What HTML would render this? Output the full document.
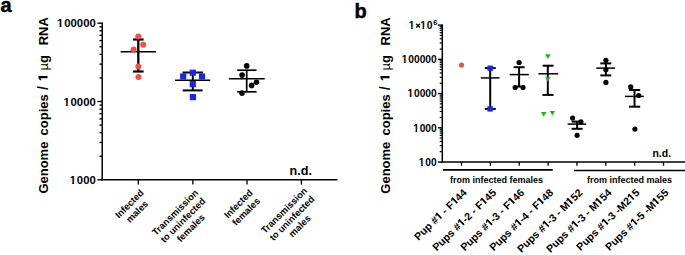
<!DOCTYPE html>
<html><head><meta charset="utf-8"><style>
html,body{margin:0;padding:0;background:#fff;}
body{width:685px;height:255px;position:relative;overflow:hidden;font-family:"Liberation Sans",sans-serif;color:#000;}
svg.main{position:absolute;left:0;top:0;font-family:"Liberation Sans",sans-serif;}
.rl{position:absolute;white-space:nowrap;text-align:center;font-weight:bold;transform-origin:100% 0;transform:rotate(-45deg);}
.pl{position:absolute;font-weight:bold;font-size:20px;line-height:1;-webkit-text-stroke:0.45px #000;}
.yt{position:absolute;white-space:nowrap;font-weight:bold;font-size:13px;line-height:1;transform-origin:0 0;transform:rotate(-90deg);}
.mu{font-weight:bold;}
.sl{font-size:14.3px;margin-top:-1.3px;}
.o1{width:0.5562em;height:0.7324em;vertical-align:baseline;overflow:visible;fill:#000;}
</style></head><body>
<div class="pl" style="left:0.6px;top:-5.1px">a</div>
<div class="pl" style="left:354.5px;top:0.5px">b</div>
<div class="yt" style="left:36.7px;top:194px"><span class="" style="position:absolute;left:0.40px;top:0">Genome</span><span class="" style="position:absolute;left:58.60px;top:0">copies</span><span class="sl" style="position:absolute;left:103.90px;top:0">/</span><span class="" style="position:absolute;left:112.90px;top:0"><svg class="o1" viewBox="0 -1500 1139 1500"><path d="M450,0L450,-1130L131,-930L131,-1200L481,-1430L790,-1430L790,0Z"/></svg></span><span class="mu" style="position:absolute;left:123.60px;top:0"><span style="font-weight:normal">µ</span>g</span><span class="" style="position:absolute;left:148.70px;top:0">RNA</span></div>
<div class="yt" style="left:378.5px;top:194.5px"><span class="" style="position:absolute;left:1.30px;top:0">Genome</span><span class="" style="position:absolute;left:59.50px;top:0">copies</span><span class="sl" style="position:absolute;left:104.80px;top:0">/</span><span class="" style="position:absolute;left:113.80px;top:0"><svg class="o1" viewBox="0 -1500 1139 1500"><path d="M450,0L450,-1130L131,-930L131,-1200L481,-1430L790,-1430L790,0Z"/></svg></span><span class="mu" style="position:absolute;left:124.50px;top:0"><span style="font-weight:normal">µ</span>g</span><span class="" style="position:absolute;left:149.60px;top:0">RNA</span></div>
<svg class="main" width="685" height="255" viewBox="0 0 685 255">
<line x1="102.20" y1="22.45" x2="102.20" y2="180.55" stroke="#000" stroke-width="1.5"/>
<line x1="97.40" y1="179.80" x2="102.20" y2="179.80" stroke="#000" stroke-width="1.4"/>
<line x1="97.40" y1="101.50" x2="102.20" y2="101.50" stroke="#000" stroke-width="1.4"/>
<line x1="97.40" y1="23.20" x2="102.20" y2="23.20" stroke="#000" stroke-width="1.4"/>
<line x1="99.40" y1="156.23" x2="102.20" y2="156.23" stroke="#000" stroke-width="1.3"/>
<line x1="99.40" y1="142.44" x2="102.20" y2="142.44" stroke="#000" stroke-width="1.3"/>
<line x1="99.40" y1="132.66" x2="102.20" y2="132.66" stroke="#000" stroke-width="1.3"/>
<line x1="99.40" y1="125.07" x2="102.20" y2="125.07" stroke="#000" stroke-width="1.3"/>
<line x1="99.40" y1="118.87" x2="102.20" y2="118.87" stroke="#000" stroke-width="1.3"/>
<line x1="99.40" y1="113.63" x2="102.20" y2="113.63" stroke="#000" stroke-width="1.3"/>
<line x1="99.40" y1="109.09" x2="102.20" y2="109.09" stroke="#000" stroke-width="1.3"/>
<line x1="99.40" y1="105.08" x2="102.20" y2="105.08" stroke="#000" stroke-width="1.3"/>
<line x1="99.40" y1="77.93" x2="102.20" y2="77.93" stroke="#000" stroke-width="1.3"/>
<line x1="99.40" y1="64.14" x2="102.20" y2="64.14" stroke="#000" stroke-width="1.3"/>
<line x1="99.40" y1="54.36" x2="102.20" y2="54.36" stroke="#000" stroke-width="1.3"/>
<line x1="99.40" y1="46.77" x2="102.20" y2="46.77" stroke="#000" stroke-width="1.3"/>
<line x1="99.40" y1="40.57" x2="102.20" y2="40.57" stroke="#000" stroke-width="1.3"/>
<line x1="99.40" y1="35.33" x2="102.20" y2="35.33" stroke="#000" stroke-width="1.3"/>
<line x1="99.40" y1="30.79" x2="102.20" y2="30.79" stroke="#000" stroke-width="1.3"/>
<line x1="99.40" y1="26.78" x2="102.20" y2="26.78" stroke="#000" stroke-width="1.3"/>
<text x="57.10 64.29 70.57 76.85 83.13 89.42" y="27.20" font-size="11.3" font-weight="bold" >100000</text>
<text x="63.38 70.57 76.85 83.13 89.42" y="105.50" font-size="11.3" font-weight="bold" >10000</text>
<text x="69.66 76.85 83.13 89.42" y="183.80" font-size="11.3" font-weight="bold" >1000</text>
<line x1="101.45" y1="179.80" x2="337.60" y2="179.80" stroke="#000" stroke-width="1.5"/>
<line x1="138.30" y1="179.80" x2="138.30" y2="184.60" stroke="#000" stroke-width="1.3"/>
<line x1="192.80" y1="179.80" x2="192.80" y2="184.60" stroke="#000" stroke-width="1.3"/>
<line x1="247.00" y1="179.80" x2="247.00" y2="184.60" stroke="#000" stroke-width="1.3"/>
<line x1="301.40" y1="179.80" x2="301.40" y2="184.60" stroke="#000" stroke-width="1.3"/>
<line x1="120.60" y1="51.70" x2="155.90" y2="51.70" stroke="#000" stroke-width="1.5"/>
<line x1="138.30" y1="39.50" x2="138.30" y2="71.50" stroke="#000" stroke-width="2.3"/>
<line x1="133.00" y1="39.50" x2="143.60" y2="39.50" stroke="#000" stroke-width="2.2"/>
<line x1="133.00" y1="71.50" x2="143.60" y2="71.50" stroke="#000" stroke-width="2.2"/>
<circle cx="138.30" cy="36.50" r="3" fill="#f04f4c"/>
<circle cx="143.20" cy="44.70" r="3" fill="#f04f4c"/>
<circle cx="133.60" cy="49.40" r="3" fill="#f04f4c"/>
<circle cx="138.30" cy="66.40" r="3" fill="#f04f4c"/>
<circle cx="138.50" cy="76.90" r="3" fill="#f04f4c"/>
<line x1="175.00" y1="80.20" x2="210.20" y2="80.20" stroke="#000" stroke-width="1.5"/>
<line x1="192.80" y1="72.50" x2="192.80" y2="90.40" stroke="#000" stroke-width="2"/>
<line x1="182.50" y1="72.50" x2="203.00" y2="72.50" stroke="#000" stroke-width="2"/>
<line x1="182.70" y1="90.40" x2="202.60" y2="90.40" stroke="#000" stroke-width="2"/>
<rect x="189.70" y="69.60" width="6.2" height="6.2" fill="#1a28e6"/>
<rect x="180.10" y="73.40" width="6.2" height="6.2" fill="#1a28e6"/>
<rect x="198.90" y="73.40" width="6.2" height="6.2" fill="#1a28e6"/>
<rect x="189.70" y="81.00" width="6.2" height="6.2" fill="#1a28e6"/>
<rect x="189.80" y="94.00" width="6.2" height="6.2" fill="#1a28e6"/>
<line x1="228.90" y1="78.80" x2="264.70" y2="78.80" stroke="#000" stroke-width="1.5"/>
<line x1="246.70" y1="70.20" x2="246.70" y2="91.80" stroke="#000" stroke-width="1.7"/>
<line x1="237.20" y1="70.20" x2="256.60" y2="70.20" stroke="#000" stroke-width="1.7"/>
<line x1="237.20" y1="91.80" x2="256.60" y2="91.80" stroke="#000" stroke-width="1.7"/>
<circle cx="246.70" cy="65.90" r="2.8" fill="#000"/>
<circle cx="242.10" cy="75.10" r="2.8" fill="#000"/>
<circle cx="256.50" cy="82.20" r="2.8" fill="#000"/>
<circle cx="251.60" cy="85.40" r="2.8" fill="#000"/>
<circle cx="242.00" cy="93.10" r="2.8" fill="#000"/>
<text x="300.70" y="174.90" font-size="12.6" text-anchor="middle" font-weight="bold" >n.d.</text>
<line x1="442.30" y1="24.37" x2="442.30" y2="162.75" stroke="#000" stroke-width="1.5"/>
<line x1="437.90" y1="162.00" x2="442.30" y2="162.00" stroke="#000" stroke-width="1.4"/>
<line x1="437.90" y1="127.78" x2="442.30" y2="127.78" stroke="#000" stroke-width="1.4"/>
<line x1="437.90" y1="93.56" x2="442.30" y2="93.56" stroke="#000" stroke-width="1.4"/>
<line x1="437.90" y1="59.34" x2="442.30" y2="59.34" stroke="#000" stroke-width="1.4"/>
<line x1="437.90" y1="25.12" x2="442.30" y2="25.12" stroke="#000" stroke-width="1.4"/>
<line x1="439.70" y1="151.70" x2="442.30" y2="151.70" stroke="#000" stroke-width="1.2"/>
<line x1="439.70" y1="145.67" x2="442.30" y2="145.67" stroke="#000" stroke-width="1.2"/>
<line x1="439.70" y1="141.40" x2="442.30" y2="141.40" stroke="#000" stroke-width="1.2"/>
<line x1="439.70" y1="138.08" x2="442.30" y2="138.08" stroke="#000" stroke-width="1.2"/>
<line x1="439.70" y1="135.37" x2="442.30" y2="135.37" stroke="#000" stroke-width="1.2"/>
<line x1="439.70" y1="133.08" x2="442.30" y2="133.08" stroke="#000" stroke-width="1.2"/>
<line x1="439.70" y1="131.10" x2="442.30" y2="131.10" stroke="#000" stroke-width="1.2"/>
<line x1="439.70" y1="129.35" x2="442.30" y2="129.35" stroke="#000" stroke-width="1.2"/>
<line x1="439.70" y1="117.48" x2="442.30" y2="117.48" stroke="#000" stroke-width="1.2"/>
<line x1="439.70" y1="111.45" x2="442.30" y2="111.45" stroke="#000" stroke-width="1.2"/>
<line x1="439.70" y1="107.18" x2="442.30" y2="107.18" stroke="#000" stroke-width="1.2"/>
<line x1="439.70" y1="103.86" x2="442.30" y2="103.86" stroke="#000" stroke-width="1.2"/>
<line x1="439.70" y1="101.15" x2="442.30" y2="101.15" stroke="#000" stroke-width="1.2"/>
<line x1="439.70" y1="98.86" x2="442.30" y2="98.86" stroke="#000" stroke-width="1.2"/>
<line x1="439.70" y1="96.88" x2="442.30" y2="96.88" stroke="#000" stroke-width="1.2"/>
<line x1="439.70" y1="95.13" x2="442.30" y2="95.13" stroke="#000" stroke-width="1.2"/>
<line x1="439.70" y1="83.26" x2="442.30" y2="83.26" stroke="#000" stroke-width="1.2"/>
<line x1="439.70" y1="77.23" x2="442.30" y2="77.23" stroke="#000" stroke-width="1.2"/>
<line x1="439.70" y1="72.96" x2="442.30" y2="72.96" stroke="#000" stroke-width="1.2"/>
<line x1="439.70" y1="69.64" x2="442.30" y2="69.64" stroke="#000" stroke-width="1.2"/>
<line x1="439.70" y1="66.93" x2="442.30" y2="66.93" stroke="#000" stroke-width="1.2"/>
<line x1="439.70" y1="64.64" x2="442.30" y2="64.64" stroke="#000" stroke-width="1.2"/>
<line x1="439.70" y1="62.66" x2="442.30" y2="62.66" stroke="#000" stroke-width="1.2"/>
<line x1="439.70" y1="60.91" x2="442.30" y2="60.91" stroke="#000" stroke-width="1.2"/>
<line x1="439.70" y1="49.04" x2="442.30" y2="49.04" stroke="#000" stroke-width="1.2"/>
<line x1="439.70" y1="43.01" x2="442.30" y2="43.01" stroke="#000" stroke-width="1.2"/>
<line x1="439.70" y1="38.74" x2="442.30" y2="38.74" stroke="#000" stroke-width="1.2"/>
<line x1="439.70" y1="35.42" x2="442.30" y2="35.42" stroke="#000" stroke-width="1.2"/>
<line x1="439.70" y1="32.71" x2="442.30" y2="32.71" stroke="#000" stroke-width="1.2"/>
<line x1="439.70" y1="30.42" x2="442.30" y2="30.42" stroke="#000" stroke-width="1.2"/>
<line x1="439.70" y1="28.44" x2="442.30" y2="28.44" stroke="#000" stroke-width="1.2"/>
<line x1="439.70" y1="26.69" x2="442.30" y2="26.69" stroke="#000" stroke-width="1.2"/>
<text x="401.86 408.34 414.02 419.69 425.36 431.03" y="63.14" font-size="10.2" font-weight="bold" >100000</text>
<text x="407.53 414.02 419.69 425.36 431.03" y="97.36" font-size="10.2" font-weight="bold" >10000</text>
<text x="413.20 419.69 425.36 431.03" y="131.58" font-size="10.2" font-weight="bold" >1000</text>
<text x="418.87 425.36 431.03" y="165.80" font-size="10.2" font-weight="bold" >100</text>
<text x="408.77" y="28.80" font-size="10.4" font-weight="bold" >1</text>
<line x1="416.20" y1="23.70" x2="420.00" y2="27.50" stroke="#000" stroke-width="1.3"/>
<line x1="416.20" y1="27.50" x2="420.00" y2="23.70" stroke="#000" stroke-width="1.3"/>
<text x="420.20 426.82" y="28.80" font-size="10.4" font-weight="bold" >10</text>
<text x="437.30" y="25.40" font-size="7.4" text-anchor="end" font-weight="bold" >6</text>
<line x1="441.55" y1="162.00" x2="685.00" y2="162.00" stroke="#000" stroke-width="1.5"/>
<line x1="461.50" y1="162.00" x2="461.50" y2="165.80" stroke="#000" stroke-width="1.3"/>
<line x1="490.36" y1="162.00" x2="490.36" y2="165.80" stroke="#000" stroke-width="1.3"/>
<line x1="519.22" y1="162.00" x2="519.22" y2="165.80" stroke="#000" stroke-width="1.3"/>
<line x1="548.08" y1="162.00" x2="548.08" y2="165.80" stroke="#000" stroke-width="1.3"/>
<line x1="576.94" y1="162.00" x2="576.94" y2="165.80" stroke="#000" stroke-width="1.3"/>
<line x1="605.80" y1="162.00" x2="605.80" y2="165.80" stroke="#000" stroke-width="1.3"/>
<line x1="634.66" y1="162.00" x2="634.66" y2="165.80" stroke="#000" stroke-width="1.3"/>
<line x1="663.52" y1="162.00" x2="663.52" y2="165.80" stroke="#000" stroke-width="1.3"/>
<line x1="443.00" y1="169.90" x2="552.80" y2="169.90" stroke="#000" stroke-width="1.6"/>
<line x1="574.10" y1="170.50" x2="685.00" y2="170.50" stroke="#000" stroke-width="1.6"/>
<text x="496.50" y="182.80" font-size="9" text-anchor="middle" font-weight="bold" >from infected females</text>
<text x="629.50" y="182.80" font-size="9" text-anchor="middle" font-weight="bold" >from infected males</text>
<circle cx="461.50" cy="65.10" r="2.6" fill="#f04f4c"/>
<line x1="480.80" y1="77.90" x2="499.60" y2="77.90" stroke="#000" stroke-width="1.5"/>
<line x1="490.20" y1="68.10" x2="490.20" y2="108.90" stroke="#000" stroke-width="2"/>
<line x1="484.80" y1="68.10" x2="495.80" y2="68.10" stroke="#000" stroke-width="2"/>
<line x1="484.80" y1="108.90" x2="495.80" y2="108.90" stroke="#000" stroke-width="2"/>
<rect x="487.50" y="65.50" width="5.4" height="5.4" fill="#1a28e6"/>
<rect x="487.40" y="106.20" width="5.4" height="5.4" fill="#1a28e6"/>
<line x1="509.70" y1="74.60" x2="528.80" y2="74.60" stroke="#000" stroke-width="1.5"/>
<line x1="519.10" y1="67.20" x2="519.10" y2="86.80" stroke="#000" stroke-width="2"/>
<line x1="513.60" y1="67.20" x2="524.60" y2="67.20" stroke="#000" stroke-width="2"/>
<line x1="513.60" y1="86.60" x2="524.60" y2="86.60" stroke="#000" stroke-width="2"/>
<circle cx="519.10" cy="62.50" r="2.6" fill="#000"/>
<circle cx="515.20" cy="87.50" r="2.6" fill="#000"/>
<circle cx="523.00" cy="87.50" r="2.6" fill="#000"/>
<line x1="538.50" y1="73.80" x2="558.20" y2="73.80" stroke="#000" stroke-width="1.5"/>
<line x1="547.80" y1="65.70" x2="547.80" y2="94.90" stroke="#000" stroke-width="2"/>
<line x1="542.60" y1="65.70" x2="553.60" y2="65.70" stroke="#000" stroke-width="2"/>
<line x1="542.40" y1="94.90" x2="553.60" y2="94.90" stroke="#000" stroke-width="2"/>
<polygon points="545.20,54.30 550.60,54.30 547.90,58.90" fill="#18b418"/>
<polygon points="545.20,77.30 550.60,77.30 547.90,81.89" fill="#18b418"/>
<polygon points="541.00,112.11 546.40,112.11 543.70,116.70" fill="#18b418"/>
<polygon points="549.70,110.91 555.10,110.91 552.40,115.50" fill="#18b418"/>
<line x1="567.60" y1="124.10" x2="586.20" y2="124.10" stroke="#000" stroke-width="1.5"/>
<line x1="577.10" y1="121.60" x2="577.10" y2="128.80" stroke="#000" stroke-width="2"/>
<line x1="571.60" y1="121.60" x2="582.60" y2="121.60" stroke="#000" stroke-width="2"/>
<line x1="571.60" y1="128.80" x2="582.60" y2="128.80" stroke="#000" stroke-width="2"/>
<circle cx="572.60" cy="118.00" r="2.6" fill="#000"/>
<circle cx="580.90" cy="121.80" r="2.6" fill="#000"/>
<circle cx="577.10" cy="135.30" r="2.6" fill="#000"/>
<line x1="596.30" y1="68.10" x2="615.10" y2="68.10" stroke="#000" stroke-width="1.5"/>
<line x1="605.90" y1="63.40" x2="605.90" y2="75.40" stroke="#000" stroke-width="2"/>
<line x1="600.30" y1="63.40" x2="611.30" y2="63.40" stroke="#000" stroke-width="2"/>
<line x1="600.30" y1="75.40" x2="611.30" y2="75.40" stroke="#000" stroke-width="2"/>
<circle cx="605.90" cy="60.30" r="2.6" fill="#000"/>
<circle cx="605.90" cy="69.80" r="2.6" fill="#000"/>
<circle cx="605.90" cy="82.40" r="2.6" fill="#000"/>
<line x1="624.90" y1="96.40" x2="643.80" y2="96.40" stroke="#000" stroke-width="1.5"/>
<line x1="634.50" y1="90.00" x2="634.50" y2="106.70" stroke="#000" stroke-width="2"/>
<line x1="629.00" y1="90.00" x2="640.20" y2="90.00" stroke="#000" stroke-width="2"/>
<line x1="629.00" y1="106.70" x2="640.20" y2="106.70" stroke="#000" stroke-width="2"/>
<circle cx="630.70" cy="86.90" r="2.6" fill="#000"/>
<circle cx="638.70" cy="95.50" r="2.6" fill="#000"/>
<circle cx="634.90" cy="129.10" r="2.6" fill="#000"/>
<text x="661.80" y="156.90" font-size="10.5" text-anchor="middle" font-weight="bold" >n.d.</text>
<rect x="57.10" y="25.28" width="2.54" height="3.05" fill="#fff"/>
<rect x="61.39" y="25.28" width="1.98" height="3.05" fill="#fff"/>
<rect x="63.38" y="103.58" width="2.54" height="3.05" fill="#fff"/>
<rect x="67.68" y="103.58" width="1.98" height="3.05" fill="#fff"/>
<rect x="69.66" y="181.88" width="2.54" height="3.05" fill="#fff"/>
<rect x="73.96" y="181.88" width="1.98" height="3.05" fill="#fff"/>
<rect x="401.86" y="61.41" width="2.29" height="2.75" fill="#fff"/>
<rect x="405.73" y="61.41" width="1.78" height="2.75" fill="#fff"/>
<rect x="407.53" y="95.63" width="2.29" height="2.75" fill="#fff"/>
<rect x="411.40" y="95.63" width="1.78" height="2.75" fill="#fff"/>
<rect x="413.20" y="129.85" width="2.29" height="2.75" fill="#fff"/>
<rect x="417.08" y="129.85" width="1.78" height="2.75" fill="#fff"/>
<rect x="418.87" y="164.07" width="2.29" height="2.75" fill="#fff"/>
<rect x="422.75" y="164.07" width="1.78" height="2.75" fill="#fff"/>
<rect x="408.77" y="27.03" width="2.34" height="2.81" fill="#fff"/>
<rect x="412.72" y="27.03" width="1.82" height="2.81" fill="#fff"/>
<rect x="420.20" y="27.03" width="2.34" height="2.81" fill="#fff"/>
<rect x="424.16" y="27.03" width="1.82" height="2.81" fill="#fff"/>
</svg>
<div class="rl" style="right:547.50px;top:187.00px;font-size:9.4px;line-height:11px;transform:rotate(-45deg)">Infected<br>males</div><div class="rl" style="right:492.50px;top:187.00px;font-size:9.4px;line-height:11px;transform:rotate(-45deg)">Transmission<br>to uninfected<br>females</div><div class="rl" style="right:438.30px;top:187.00px;font-size:9.4px;line-height:11px;transform:rotate(-45deg)">Infected<br>females</div><div class="rl" style="right:383.90px;top:185.00px;font-size:9.4px;line-height:11px;transform:rotate(-45deg)">Transmission<br>to uninfected<br>males</div><div class="rl" style="right:223.70px;top:187.40px;font-size:10.6px;line-height:11px;transform:rotate(-44deg)">Pup #<svg class="o1" viewBox="0 -1500 1139 1500"><path d="M450,0L450,-1130L131,-930L131,-1200L481,-1430L790,-1430L790,0Z"/></svg> - F<svg class="o1" viewBox="0 -1500 1139 1500"><path d="M450,0L450,-1130L131,-930L131,-1200L481,-1430L790,-1430L790,0Z"/></svg>44</div><div class="rl" style="right:194.84px;top:187.40px;font-size:10.6px;line-height:11px;transform:rotate(-44deg)">Pups #<svg class="o1" viewBox="0 -1500 1139 1500"><path d="M450,0L450,-1130L131,-930L131,-1200L481,-1430L790,-1430L790,0Z"/></svg>-2 - F<svg class="o1" viewBox="0 -1500 1139 1500"><path d="M450,0L450,-1130L131,-930L131,-1200L481,-1430L790,-1430L790,0Z"/></svg>45</div><div class="rl" style="right:165.98px;top:187.40px;font-size:10.6px;line-height:11px;transform:rotate(-44deg)">Pups #<svg class="o1" viewBox="0 -1500 1139 1500"><path d="M450,0L450,-1130L131,-930L131,-1200L481,-1430L790,-1430L790,0Z"/></svg>-3 - F<svg class="o1" viewBox="0 -1500 1139 1500"><path d="M450,0L450,-1130L131,-930L131,-1200L481,-1430L790,-1430L790,0Z"/></svg>46</div><div class="rl" style="right:137.12px;top:187.40px;font-size:10.6px;line-height:11px;transform:rotate(-44deg)">Pups #<svg class="o1" viewBox="0 -1500 1139 1500"><path d="M450,0L450,-1130L131,-930L131,-1200L481,-1430L790,-1430L790,0Z"/></svg>-4 - F<svg class="o1" viewBox="0 -1500 1139 1500"><path d="M450,0L450,-1130L131,-930L131,-1200L481,-1430L790,-1430L790,0Z"/></svg>48</div><div class="rl" style="right:108.26px;top:187.40px;font-size:10.6px;line-height:11px;transform:rotate(-44deg)">Pups #<svg class="o1" viewBox="0 -1500 1139 1500"><path d="M450,0L450,-1130L131,-930L131,-1200L481,-1430L790,-1430L790,0Z"/></svg>-3 - M<svg class="o1" viewBox="0 -1500 1139 1500"><path d="M450,0L450,-1130L131,-930L131,-1200L481,-1430L790,-1430L790,0Z"/></svg>52</div><div class="rl" style="right:79.40px;top:187.40px;font-size:10.6px;line-height:11px;transform:rotate(-44deg)">Pups #<svg class="o1" viewBox="0 -1500 1139 1500"><path d="M450,0L450,-1130L131,-930L131,-1200L481,-1430L790,-1430L790,0Z"/></svg>-3 - M<svg class="o1" viewBox="0 -1500 1139 1500"><path d="M450,0L450,-1130L131,-930L131,-1200L481,-1430L790,-1430L790,0Z"/></svg>54</div><div class="rl" style="right:50.54px;top:187.40px;font-size:10.6px;line-height:11px;transform:rotate(-44deg)">Pups #<svg class="o1" viewBox="0 -1500 1139 1500"><path d="M450,0L450,-1130L131,-930L131,-1200L481,-1430L790,-1430L790,0Z"/></svg>-3 -M2<svg class="o1" viewBox="0 -1500 1139 1500"><path d="M450,0L450,-1130L131,-930L131,-1200L481,-1430L790,-1430L790,0Z"/></svg>5</div><div class="rl" style="right:21.68px;top:187.40px;font-size:10.6px;line-height:11px;transform:rotate(-44deg)">Pups #<svg class="o1" viewBox="0 -1500 1139 1500"><path d="M450,0L450,-1130L131,-930L131,-1200L481,-1430L790,-1430L790,0Z"/></svg>-5 -M<svg class="o1" viewBox="0 -1500 1139 1500"><path d="M450,0L450,-1130L131,-930L131,-1200L481,-1430L790,-1430L790,0Z"/></svg>55</div>
</body></html>
